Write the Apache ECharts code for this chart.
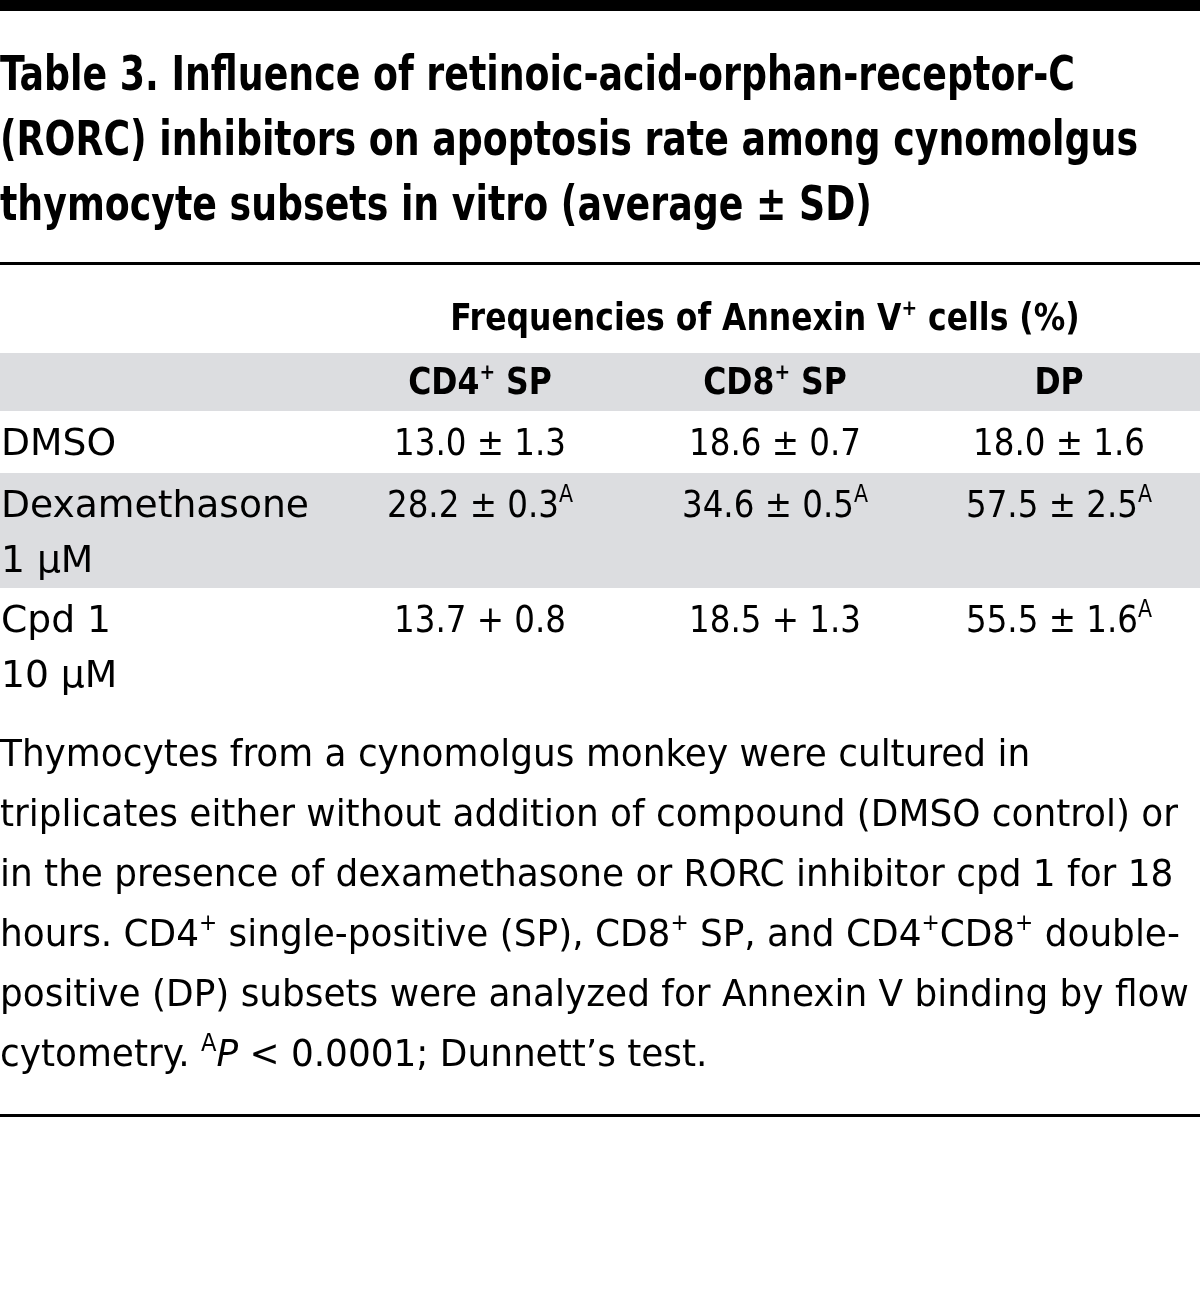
<!DOCTYPE html>
<html><head><meta charset="utf-8">
<script src="https://cdn.jsdelivr.net/npm/echarts@6/dist/echarts.min.js"></script>
<style>html,body{margin:0;padding:0;background:#fff}#chart{width:1200px;height:1302px}</style>
</head><body><div id="chart"></div><script>
// ---------- content ----------
const titleLines = [
  'Table 3. Influence of retinoic-acid-orphan-receptor-C',
  '(RORC) inhibitors on apoptosis rate among cynomolgus',
  'thymocyte subsets in vitro (average ± SD)'
];
const spanHeader = 'Frequencies of Annexin V{bsup|+} cells (%)';
const columnHeaders = ['CD4{bsup|+} SP', 'CD8{bsup|+} SP', 'DP'];
const rowLabels = [['DMSO'], ['Dexamethasone', '1 μM'], ['Cpd 1', '10 μM']];

const cd4Mean = [13.0, 28.2, 13.7];
const cd4Sd   = [1.3, 0.3, 0.8];
const cd4Sep  = ['±', '±', '+'];
const cd4Sig  = [false, true, false];

const cd8Mean = [18.6, 34.6, 18.5];
const cd8Sd   = [0.7, 0.5, 1.3];
const cd8Sep  = ['±', '±', '+'];
const cd8Sig  = [false, true, false];

const dpMean = [18.0, 57.5, 55.5];
const dpSd   = [1.6, 2.5, 1.6];
const dpSep  = ['±', '±', '±'];
const dpSig  = [false, true, true];

const footnoteLines = [
  'Thymocytes from a cynomolgus monkey were cultured in',
  'triplicates either without addition of compound (DMSO control) or',
  'in the presence of dexamethasone or RORC inhibitor cpd 1 for 18',
  'hours. CD4{sup|+} single-positive (SP), CD8{sup|+} SP, and CD4{sup|+}CD8{sup|+} double-',
  'positive (DP) subsets were analyzed for Annexin V binding by flow',
  'cytometry. {supA|A}{it|P} < 0.0001; Dunnett’s test.'
];

// ---------- layout / style ----------
const FONT = "'Liberation Sans Narrow','DejaVu Sans Condensed','Liberation Sans',sans-serif";
const W = 1200;
const cv = document.createElement('canvas').getContext('2d');
function measure(t, size, weight) { cv.font = weight + ' ' + size + 'px ' + FONT; return cv.measureText(t).width; }
function plain(t) { return t.replace(/\{\w+\|([^}]*)\}/g, '$1'); }

const titleSize = 48, headSize = 37, bodySize = 38, noteSize = 38;
const kTitle = 1138 / measure(titleLines[1], titleSize, 'bold');
const kHead  = 640 / measure(plain(spanHeader), headSize, 'bold');
const kLabel = 308 / measure('Dexamethasone', bodySize, 'normal');
const kValue = 172 / measure('13.0 ± 1.3', bodySize, 'normal');
const kNote  = 1178 / measure(footnoteLines[1], noteSize, 'normal');

function rich(size, weight, lh) {
  return {
    n:    { fontSize: size, fontWeight: weight, fontFamily: FONT, lineHeight: lh, fill: '#000' },
    sup:  { fontSize: Math.round(size * 0.6), fontWeight: weight, fontFamily: FONT, lineHeight: lh, verticalAlign: 'top', fill: '#000' },
    supA: { fontSize: Math.round(size * 0.62), fontWeight: weight, fontFamily: FONT, lineHeight: lh, verticalAlign: 'top', fill: '#000' },
    bsup: { fontSize: Math.round(size * 0.6), fontWeight: weight, fontFamily: FONT, lineHeight: lh, verticalAlign: 'top', fill: '#000' },
    it:   { fontSize: size, fontWeight: weight, fontStyle: 'italic', fontFamily: FONT, lineHeight: lh, fill: '#000' }
  };
}
function wrapPlain(t) {
  // wrap untagged runs in {n|...}
  const parts = []; let last = 0; const re = /\{\w+\|[^}]*\}/g; let m;
  while ((m = re.exec(t))) { if (m.index > last) parts.push('{n|' + t.slice(last, m.index) + '}'); parts.push(m[0]); last = re.lastIndex; }
  if (last < t.length) parts.push('{n|' + t.slice(last) + '}');
  return parts.join('');
}
function txt(t, x, y, size, weight, k, align) {
  return {
    type: 'text', x: x, y: y, scaleX: k, z: 10,
    style: { text: wrapPlain(t), rich: rich(size, weight, Math.round(size * 1.2)), align: align || 'left', verticalAlign: 'middle', fill: '#000' }
  };
}
function rect(x, y, w, h, c) { return { type: 'rect', shape: { x: x, y: y, width: w, height: h }, style: { fill: c }, z: 1 }; }

const GRAY = '#dcdde0';
const colCenters = [480, 775, 1059];
const rowTops = [411, 473, 588];
const rowHeights = [62, 115, 117];
const shaded = [false, true, false];

const g = [];
g.push(rect(0, 0, W, 11, '#000'));
titleLines.forEach((t, i) => g.push(txt(t, 0, 78 + i * 65, titleSize, 'bold', kTitle)));
g.push(rect(0, 262, W, 3, '#000'));
g.push(txt(spanHeader, 765, 320, headSize, 'bold', kHead, 'center'));
g.push(rect(0, 353, W, 58, GRAY));
columnHeaders.forEach((t, j) => g.push(txt(t, colCenters[j], 384, headSize, 'bold', kHead, 'center')));

const cols = [
  [cd4Mean, cd4Sd, cd4Sep, cd4Sig],
  [cd8Mean, cd8Sd, cd8Sep, cd8Sig],
  [dpMean, dpSd, dpSep, dpSig]
];
rowLabels.forEach((lines, i) => {
  if (shaded[i]) g.push(rect(0, rowTops[i], W, rowHeights[i], GRAY));
  const y0 = rowTops[i] + 34;
  lines.forEach((l, li) => g.push(txt(l, 1, y0 + li * 55, bodySize, 'normal', kLabel)));
  cols.forEach((c, j) => {
    const s = c[0][i].toFixed(1) + ' ' + c[2][i] + ' ' + c[1][i].toFixed(1) + (c[3][i] ? '{supA|A}' : '');
    g.push(txt(s, colCenters[j], y0, bodySize, 'normal', kValue, 'center'));
  });
});

footnoteLines.forEach((t, i) => g.push(txt(t, 0, 756 + i * 60, noteSize, 'normal', kNote)));
g.push(rect(0, 1114, W, 3, '#000'));

const chart = echarts.init(document.getElementById('chart'), null, { renderer: 'canvas' });
chart.setOption({ backgroundColor: '#fff', animation: false, graphic: { elements: g } });
</script></body></html>
